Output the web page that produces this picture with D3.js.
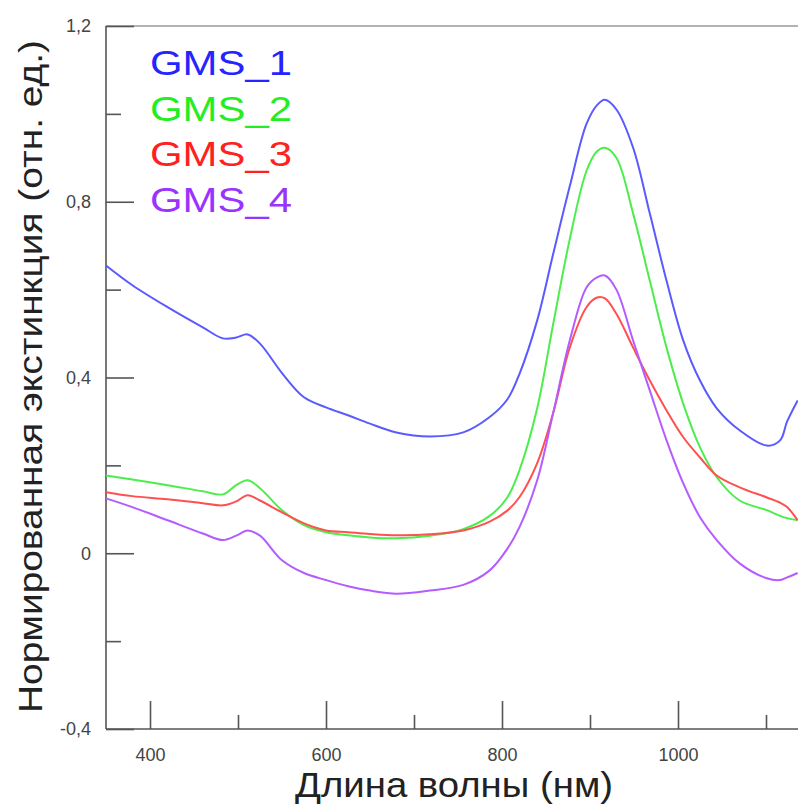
<!DOCTYPE html>
<html>
<head>
<meta charset="utf-8">
<script src="https://cdn.jsdelivr.net/npm/d3@7"></script>
<style>
  body { margin: 0; background: #fff; }
  svg { display: block; font-family: "Liberation Sans", Arial, sans-serif; }
  .axis path, .axis line { stroke: #555; stroke-width: 1.6; }
  .axis text { fill: #444; font-size: 18px; }
</style>
</head>
<body>
<svg id="chart"></svg>
<script>
// wavelengths, nm
const wavelengths = [350, 380, 420, 460, 483, 498, 511, 525, 550, 575, 600, 625, 650, 680, 718, 756, 786, 806, 820, 840, 858, 877, 896, 908, 917, 930, 949, 968, 987, 1006, 1025, 1044, 1070, 1101, 1116, 1124, 1136]

const gms1 = [0.655, 0.61, 0.56, 0.514, 0.489, 0.491, 0.498, 0.477, 0.41, 0.355, 0.332, 0.314, 0.295, 0.275, 0.266, 0.275, 0.31, 0.35, 0.409, 0.53, 0.68, 0.835, 0.977, 1.02, 1.032, 1.01, 0.923, 0.773, 0.62, 0.484, 0.393, 0.33, 0.28, 0.245, 0.257, 0.30, 0.348]
const gms2 = [0.177, 0.168, 0.155, 0.141, 0.134, 0.155, 0.166, 0.148, 0.098, 0.064, 0.048, 0.041, 0.036, 0.034, 0.04, 0.055, 0.085, 0.127, 0.19, 0.33, 0.52, 0.715, 0.87, 0.915, 0.923, 0.9, 0.773, 0.62, 0.468, 0.34, 0.241, 0.173, 0.12, 0.098, 0.085, 0.08, 0.075]
const gms3 = [0.139, 0.13, 0.123, 0.114, 0.109, 0.118, 0.132, 0.12, 0.093, 0.068, 0.052, 0.048, 0.044, 0.041, 0.043, 0.052, 0.072, 0.097, 0.128, 0.205, 0.318, 0.468, 0.56, 0.582, 0.58, 0.545, 0.468, 0.393, 0.325, 0.264, 0.218, 0.177, 0.15, 0.127, 0.115, 0.105, 0.075]
const gms4 = [0.125, 0.105, 0.075, 0.045, 0.03, 0.04, 0.052, 0.04, -0.016, -0.045, -0.061, -0.075, -0.085, -0.092, -0.085, -0.072, -0.039, 0.01, 0.06, 0.166, 0.318, 0.484, 0.605, 0.628, 0.632, 0.6, 0.484, 0.37, 0.257, 0.159, 0.082, 0.03, -0.023, -0.057, -0.061, -0.055, -0.045]

const seriesNames = ["GMS_1", "GMS_2", "GMS_3", "GMS_4"]
const seriesValues = [gms1, gms2, gms3, gms4]
const lineColors = ["#5a5aff", "#4ced4c", "#ff5050", "#b45cff"]
const textColors = ["#2424ff", "#22ee22", "#ff2020", "#9a33ff"]

const yMajor = [-0.4, 0, 0.4, 0.8, 1.2]
const yMinor = [-0.2, 0.2, 0.6, 1.0]
const xMajor = [400, 600, 800, 1000]
const xMinor = [500, 700, 900, 1100]

const width = 798
const height = 807
const plotLeft = 106, plotTop = 26, plotBottom = 729

const svg = d3.select("#chart")
    .attr("width", width)
    .attr("height", height)

const x = d3.scaleLinear().domain([350, 1140]).range([plotLeft, plotLeft + 790 * 0.88])
const y = d3.scaleLinear().domain([-0.4, 1.2]).range([plotBottom, plotTop])

// comma decimals, plain hyphen for minus
const fmt = d => d === 0 ? "0" : d3.format(".1f")(d).replace(".", ",").replace("\u2212", "-")

// top frame line
svg.append("line")
    .attr("x1", plotLeft).attr("x2", width)
    .attr("y1", plotTop).attr("y2", plotTop)
    .attr("stroke", "#999").attr("stroke-width", 1.6)

// y axis
svg.append("g")
    .attr("class", "axis")
    .attr("transform", `translate(${plotLeft},0)`)
    .call(d3.axisLeft(y).tickValues(yMajor).tickSize(-28).tickPadding(15).tickFormat(fmt))
    .call(g => g.select(".domain").attr("d", `M0,${plotTop}V${plotBottom}`))

svg.append("g")
    .attr("class", "axis")
    .attr("transform", `translate(${plotLeft},0)`)
    .call(d3.axisLeft(y).tickValues(yMinor).tickSize(-15).tickFormat(""))
    .call(g => g.select(".domain").remove())

// x axis
svg.append("g")
    .attr("class", "axis")
    .attr("transform", `translate(0,${plotBottom})`)
    .call(d3.axisBottom(x).tickValues(xMajor).tickSize(-28).tickPadding(19).tickFormat(d3.format("d")))
    .call(g => g.select(".domain").attr("d", `M${plotLeft},0H${width}`))

svg.append("g")
    .attr("class", "axis")
    .attr("transform", `translate(0,${plotBottom})`)
    .call(d3.axisBottom(x).tickValues(xMinor).tickSize(-14).tickFormat(""))
    .call(g => g.select(".domain").remove())

// curves
const line = d3.line()
    .x((d, i) => x(wavelengths[i]))
    .y(d => y(d))
    .curve(d3.curveCatmullRom.alpha(0.5))

svg.selectAll(".series")
    .data(seriesValues)
    .enter()
    .append("path")
    .attr("class", "series")
    .attr("fill", "none")
    .attr("stroke", (d, i) => lineColors[i])
    .attr("stroke-width", 2)
    .attr("d", d => line(d))

// legend
svg.selectAll(".legend")
    .data(seriesNames)
    .enter()
    .append("text")
    .attr("class", "legend")
    .attr("x", 150)
    .attr("y", (d, i) => 75 + i * 45.7)
    .attr("font-size", 35)
    .attr("textLength", 142)
    .attr("lengthAdjust", "spacingAndGlyphs")
    .attr("fill", (d, i) => textColors[i])
    .text(d => d)

// axis titles
svg.append("text")
    .attr("x", 295)
    .attr("y", 797)
    .attr("font-size", 35)
    .attr("textLength", 318)
    .attr("lengthAdjust", "spacingAndGlyphs")
    .attr("fill", "#222")
    .text("Длина волны (нм)")

svg.append("text")
    .attr("transform", "translate(42,713) rotate(-90)")
    .attr("font-size", 34)
    .attr("textLength", 673)
    .attr("lengthAdjust", "spacingAndGlyphs")
    .attr("fill", "#222")
    .text("Нормированная экстинкция (отн. ед.)")
</script>
</body>
</html>
